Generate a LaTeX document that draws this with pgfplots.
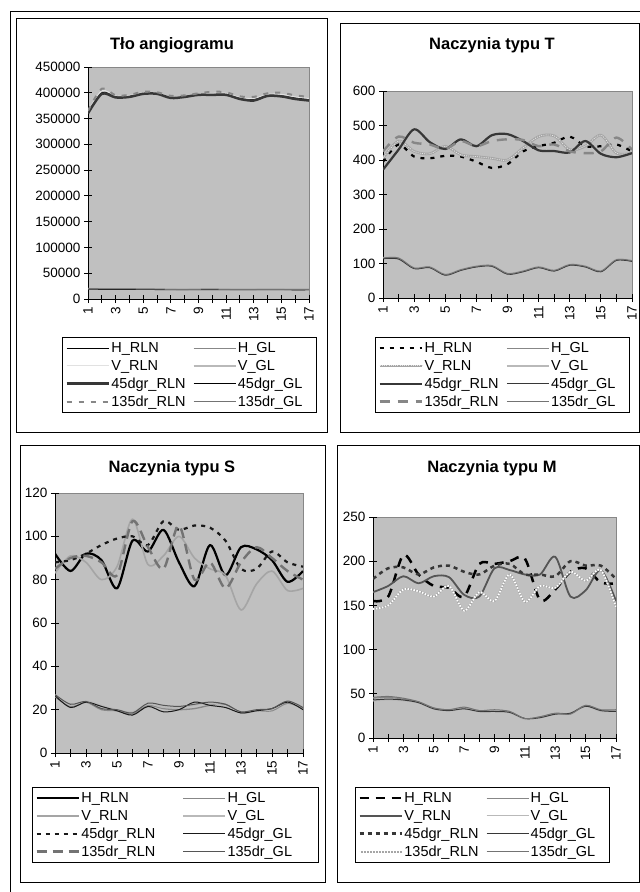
\documentclass[border=0pt]{standalone}
\usepackage{fontspec}
\setmainfont{Liberation Sans}
\usepackage{pgfplots}
\usepackage{pgfplotstable}
\pgfplotsset{compat=1.18}

\definecolor{plotbg}{RGB}{192,192,192}
\definecolor{k1}{RGB}{25,25,25}
\definecolor{k2}{RGB}{55,55,55}
\definecolor{g1}{RGB}{85,85,85}
\definecolor{g2}{RGB}{115,115,115}
\definecolor{g3}{RGB}{135,135,135}
\definecolor{g4}{RGB}{165,165,165}
\definecolor{g5}{RGB}{185,185,185}
\definecolor{g6}{RGB}{225,225,225}

\newcommand\tickfont{\fontsize{13.5}{15}\selectfont}
\newcommand\legfont{\fontsize{14.5}{16}\selectfont}
\newcommand\titlefont{\fontsize{16.5}{18}\selectfont\bfseries}

% Tlo angiogramu
\pgfplotstableread{
x HRLN HGL VRLN VGL DRLN DGL SRLN SGL
1  362000 19500 364000 20000 360000 19000 365000 19800
2  400000 19400 404000 19900 398000 18900 408000 19700
3  393000 19300 394000 19800 391000 18800 395000 19600
4  394000 19200 395000 19600 392000 18700 396000 19500
5  399000 19000 400000 19500 398000 18600 402000 19300
6  399000 18800 400000 19300 398000 18400 401000 19100
7  391000 18500 392000 19000 390000 18100 394000 18800
8  393000 18400 394000 18900 392000 18000 395000 18700
9  397000 18600 398000 19100 396000 18300 399000 18900
10 397000 18700 399000 19200 396000 18400 402000 19000
11 397000 18500 399000 19000 396000 18200 401000 18800
12 389000 18300 391000 18800 388000 18000 393000 18600
13 387000 18400 389000 18900 385000 18100 392000 18700
14 395000 18600 397000 19100 394000 18300 399000 18900
15 394000 18500 397000 19000 393000 18200 400000 18800
16 390000 18200 392000 18700 388000 17900 395000 18500
17 387000 18300 389000 18800 385000 18000 392000 18600
}\tabA

% Naczynia typu T
\pgfplotstableread{
x HRLN HGL VRLN VGL DRLN DGL SRLN SGL
1  395 115 405 117 372 114 425 116
2  445 115 455 116 430 113 468 116
3  410 86  425 88  489 85  450 87
4  405 89  418 91  452 88  445 90
5  412 67  440 69  432 66  432 68
6  410 81  415 83  460 80  455 82
7  395 91  410 93  440 90  440 92
8  377 93  405 95  472 92  455 94
9  388 70  400 72  475 69  460 71
10 425 77  435 79  455 76  458 78
11 440 89  468 91  428 88  440 90
12 450 79  470 81  426 78  445 80
13 468 96  430 98  422 95  425 97
14 440 91  440 93  455 90  420 92
15 440 77  472 79  418 76  425 78
16 445 110 420 112 408 109 465 111
17 425 107 420 109 420 106 430 108
}\tabB

% Naczynia typu S
\pgfplotstableread{
x HRLN HGL VRLN VGL DRLN DGL SRLN SGL
1  92  26   83  27   88  26.5 85  27
2  84  21.5 91  22   89  21   90  22.5
3  92  23.5 88  24   92  23.5 91  23.8
4  89  20   80  22   96  21.5 88  20.5
5  76  19.5 86  20   99  19.5 82  20
6  98  18   108 19   100 17.5 107 18.5
7  93  22   87  22.5 96  21.5 95  23
8  103 20.5 91  21   107 19   85  22
9  88  20   100 21   103 20   105 21.5
10 77  20.5 90  22   105 23.5 80  22.5
11 96  22   85  23   104 22   88  23.5
12 82  22.5 82  21.5 98  21   76  22.5
13 95  18.5 66  19   85  18.5 88  19
14 94  19.5 78  19.5 85  19.5 95  20
15 89  19.5 84  20   93  20.5 90  20.5
16 79  23   75  23.5 88  23.5 84  24
17 84  20.5 76  20   86  20   80  21
}\tabC

% Naczynia typu M
\pgfplotstableread{
x HRLN HGL VRLN VGL DRLN DGL SRLN SGL
1  155 45 165 42 180 43 146 46
2  160 46 172 43 192 44 150 47
3  207 44 183 42 193 43 168 45
4  185 41 175 40 185 40 166 41
5  172 34 183 33 193 33 160 34
6  170 32 182 32 195 31 172 32
7  160 34 162 34 188 33 144 35
8  197 31 160 30 185 30 165 31
9  197 31 192 31 195 30 155 32
10 200 30 190 29 197 29 185 30
11 203 22 185 21 185 22 154 22
12 156 24 185 23 185 23 172 24
13 168 28 205 27 183 27 170 28
14 188 28 160 27 200 28 188 27
15 192 37 167 36 195 36 178 37
16 176 31 190 30 195 31 190 32
17 175 31 155 31 180 30 148 32
}\tabD

\pgfplotsset{
  panel/.style={
    scale only axis, anchor=south west,
    xmin=1, xmax=17, ymin=0,
    xtick={1,...,17},
    xticklabels={1,,3,,5,,7,,9,,11,,13,,15,,17},
    xticklabel style={rotate=90, anchor=east, font=\tickfont},
    yticklabel style={font=\tickfont, /pgf/number format/fixed,
      /pgf/number format/1000 sep={}},
    /pgf/number format/assume math mode=true,
    scaled y ticks=false,
    axis x line*=bottom, axis y line*=left,
    axis line style={-, black, line width=0.9pt},
    every tick/.style={black, line width=0.9pt},
    tick align=center, major tick length=8pt,
    axis background/.style={fill=plotbg, draw=g3, line width=0.8pt},
    every axis plot/.append style={smooth, tension=0.5, line join=round},
    legend columns=2,
    legend cell align=left,
    legend style={draw=black, line width=0.8pt, fill=white, anchor=north west,
      font=\legfont, inner xsep=3pt, inner ysep=2pt,
      nodes={inner xsep=1.5pt, inner ysep=3pt, text width=74pt},
      /tikz/every even column/.append style={column sep=6pt}},
    legend image code/.code={\draw[##1] (0pt,0pt) -- (42pt,0pt);},
  },
}

\begin{document}
\begin{tikzpicture}
\path[use as bounding box] (0pt,0pt) rectangle (640pt,-892pt);
\draw[line width=0.9pt] (10pt,-892pt) -- (10pt,-11pt) -- (640pt,-11pt);
\draw[line width=0.9pt] (16pt,-18pt) rectangle (327pt,-432pt);
\draw[line width=0.9pt] (340pt,-23pt) rectangle (639.5pt,-432pt);
\draw[line width=0.9pt] (20pt,-445pt) rectangle (325pt,-882pt);
\draw[line width=0.9pt] (337pt,-445pt) rectangle (639.5pt,-882pt);

\node[font=\titlefont] at (172pt,-45pt) {Tło angiogramu};
\node[font=\titlefont] at (492pt,-45pt) {Naczynia typu T};
\node[font=\titlefont] at (172pt,-468pt) {Naczynia typu S};
\node[font=\titlefont] at (492pt,-468pt) {Naczynia typu M};

% panel 1
\begin{axis}[panel, at={(88pt,-299pt)}, width=221pt, height=232pt,
  ymax=450000,
  ytick={0,50000,100000,150000,200000,250000,300000,350000,400000,450000},
  legend style={at={(-0.1176,-0.1638)}}]
\addplot[black, line width=1pt] table[y=HRLN] {\tabA};
\addlegendentry{H\_RLN}
\addplot[g3, line width=1pt] table[y=HGL] {\tabA};
\addlegendentry{H\_GL}
\addplot[g6, line width=1pt] table[y=VRLN] {\tabA};
\addlegendentry{V\_RLN}
\addplot[g5, line width=1.5pt] table[y=VGL] {\tabA};
\addlegendentry{V\_GL}
\addplot[k2, line width=2.5pt] table[y=DRLN] {\tabA};
\addlegendentry{45dgr\_RLN}
\addplot[black, line width=1pt] table[y=DGL] {\tabA};
\addlegendentry{45dgr\_GL}
\addplot[g3, line width=2pt, dash pattern=on 5pt off 7pt] table[y=SRLN] {\tabA};
\addlegendentry{135dr\_RLN}
\addplot[g2, line width=1pt] table[y=SGL] {\tabA};
\addlegendentry{135dr\_GL}
\end{axis}

% panel 2
\begin{axis}[panel, at={(383pt,-298pt)}, width=249pt, height=207pt,
  ymax=600, ytick={0,100,...,600},
  legend style={at={(-0.0321,-0.1884)}}]
\addplot[black, line width=2.2pt, dash pattern=on 4pt off 6pt] table[y=HRLN] {\tabB};
\addlegendentry{H\_RLN}
\addplot[g3, line width=1pt] table[y=HGL] {\tabB};
\addlegendentry{H\_GL}
\addplot[g4, line width=2.6pt, postaction={draw, white!80!gray, line width=0.8pt, dash pattern=on 1pt off 1.2pt}] table[y=VRLN] {\tabB};
\addlegendentry{V\_RLN}
\addplot[g5, line width=1.5pt] table[y=VGL] {\tabB};
\addlegendentry{V\_GL}
\addplot[k2, line width=2.2pt] table[y=DRLN] {\tabB};
\addlegendentry{45dgr\_RLN}
\addplot[k2, line width=1pt] table[y=DGL] {\tabB};
\addlegendentry{45dgr\_GL}
\addplot[g3, line width=2.4pt, dash pattern=on 10pt off 8pt] table[y=SRLN] {\tabB};
\addlegendentry{135dr\_RLN}
\addplot[g2, line width=1pt] table[y=SGL] {\tabB};
\addlegendentry{135dr\_GL}
\end{axis}

% panel 3
\begin{axis}[panel, at={(55pt,-753pt)}, width=248pt, height=260pt,
  ymax=120, ytick={0,20,...,120},
  legend style={at={(-0.0927,-0.1308)},
    nodes={text width=86pt},
    /tikz/every even column/.append style={column sep=14pt}}]
\addplot[black, line width=2.2pt] table[y=HRLN] {\tabC};
\addlegendentry{H\_RLN}
\addplot[g3, line width=1.3pt] table[y=HGL] {\tabC};
\addlegendentry{H\_GL}
\addplot[g4, line width=1.6pt] table[y=VRLN] {\tabC};
\addlegendentry{V\_RLN}
\addplot[g5, line width=1.3pt] table[y=VGL] {\tabC};
\addlegendentry{V\_GL}
\addplot[k1, line width=2.2pt, dash pattern=on 4pt off 5pt] table[y=DRLN] {\tabC};
\addlegendentry{45dgr\_RLN}
\addplot[k1, line width=1pt] table[y=DGL] {\tabC};
\addlegendentry{45dgr\_GL}
\addplot[g2, line width=2.4pt, dash pattern=on 10pt off 6pt] table[y=SRLN] {\tabC};
\addlegendentry{135dr\_RLN}
\addplot[g1, line width=1pt] table[y=SGL] {\tabC};
\addlegendentry{135dr\_GL}
\end{axis}

% panel 4
\begin{axis}[panel, at={(373pt,-738pt)}, width=243pt, height=221pt,
  ymax=250, ytick={0,50,...,250},
  legend style={at={(-0.0741,-0.2217)}}]
\addplot[black, line width=2.5pt, dash pattern=on 9pt off 7pt] table[y=HRLN] {\tabD};
\addlegendentry{H\_RLN}
\addplot[g3, line width=1pt] table[y=HGL] {\tabD};
\addlegendentry{H\_GL}
\addplot[g1, line width=1.8pt] table[y=VRLN] {\tabD};
\addlegendentry{V\_RLN}
\addplot[g5, line width=1.3pt] table[y=VGL] {\tabD};
\addlegendentry{V\_GL}
\addplot[k2, line width=2.5pt, dash pattern=on 4pt off 4pt] table[y=DRLN] {\tabD};
\addlegendentry{45dgr\_RLN}
\addplot[k2, line width=1pt] table[y=DGL] {\tabD};
\addlegendentry{45dgr\_GL}
\addplot[white, line width=1.8pt, dash pattern=on 1.5pt off 1.5pt,
  preaction={draw, g4, line width=2pt, solid}] table[y=SRLN] {\tabD};
\addlegendentry{135dr\_RLN}
\addplot[g2, line width=1pt] table[y=SGL] {\tabD};
\addlegendentry{135dr\_GL}
\end{axis}
\end{tikzpicture}
\end{document}
